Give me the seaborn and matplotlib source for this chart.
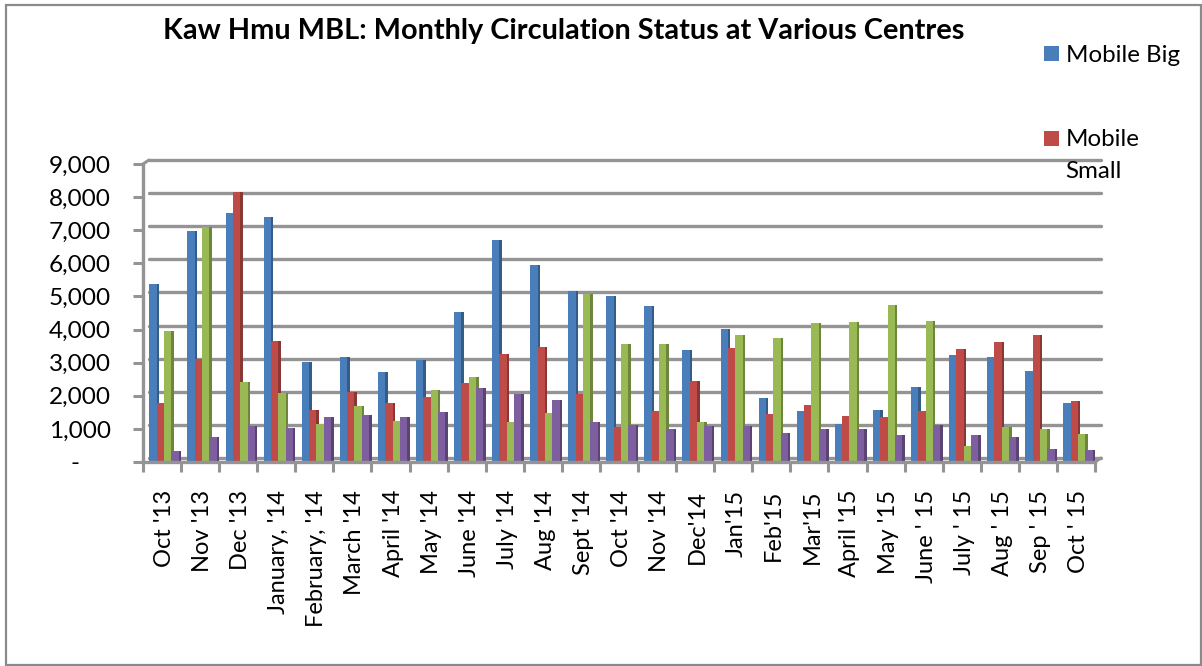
import matplotlib
matplotlib.use("Agg")
import matplotlib.pyplot as plt
from matplotlib.patches import Rectangle
from matplotlib.transforms import ScaledTranslation
from matplotlib.ticker import FuncFormatter
import seaborn as sns
import pandas as pd
import matplotlib.colors as mc

months = ["Oct '13","Nov '13","Dec '13","January, '14","February, '14","March '14","April '14","May '14","June '14","July '14","Aug '14","Sept '14","Oct '14","Nov '14","Dec'14","Jan'15","Feb'15","Mar'15","April '15","May '15","June ' 15","July ' 15","Aug ' 15","Sep ' 15","Oct ' 15"]
mobile_big = [5390,6990,7520,7400,3020,3170,2720,3090,4530,6700,5950,5165,5025,4700,3390,4010,1940,1550,1140,1560,2275,3240,3180,2740,1790]
mobile_small = [1780,3120,8150,3655,1580,2125,1780,1970,2400,3270,3470,2065,1060,1530,2445,3450,1450,1730,1400,1350,1550,3425,3625,3840,1855]
series_3 = [3950,7100,2430,2075,1160,1680,1230,2185,2560,1220,1480,5085,3555,3575,1200,3850,3745,4200,4240,4750,4250,485,1060,1000,845]
series_4 = [320,755,1080,1040,1350,1420,1360,1510,2225,2065,1860,1210,1110,1000,1090,1100,885,990,1010,815,1110,815,745,395,355]
series_names = ["Mobile Big","Mobile Small","Series 3","Series 4"]
colors = ["#4a7ebb","#be4b48","#98b954","#7d5fa0"]

W, H = 1202, 666
sns.set_theme(style="white")
plt.rcParams["font.family"] = ["Lato", "DejaVu Sans"]
fig = plt.figure(figsize=(W/100, H/100), dpi=100, facecolor="white")
L, R, T, B = 143, 1095, 164, 462
ax = fig.add_axes([L/W, 1-B/H, (R-L)/W, (B-T)/H])

df = pd.DataFrame({"Month": months*4,
                   "Series": sum([[n]*len(months) for n in series_names], []),
                   "Value": mobile_big+mobile_small+series_3+series_4})
GRAY = "#949494"
def darker(c, f=0.72):
    return tuple(x*f for x in mc.to_rgb(c))

# back-wall gridlines, shifted up and right from the front axis
back = ScaledTranslation(6/100, 4/100, fig.dpi_scale_trans)
for v in range(0, 9001, 1000):
    ax.plot([-0.5, 24.5], [v, v], color=GRAY, lw=2.4, solid_capstyle="round",
            transform=ax.transData+back, zorder=1, clip_on=False)

# side faces then front faces, per series
sns.barplot(data=df, x="Month", y="Value", hue="Series", hue_order=series_names,
            palette=[darker(c) for c in colors],
            width=0.77, gap=0, saturation=1, ax=ax, legend=False, zorder=2)
n_side = len(ax.patches)
side_shift = ScaledTranslation(4.5/100, 0, fig.dpi_scale_trans)
for p in ax.patches:
    p.set_transform(p.get_data_transform()+side_shift)
    p.set_clip_on(False)
    p.set_linewidth(0)
sns.barplot(data=df, x="Month", y="Value", hue="Series", hue_order=series_names,
            palette=colors,
            width=0.77, gap=0, saturation=1, ax=ax, legend=False, zorder=3)
front_shift = ScaledTranslation(2/100, 0, fig.dpi_scale_trans)
for p in ax.patches[n_side:]:
    p.set_transform(p.get_data_transform()+front_shift)
    p.set_clip_on(False)
    p.set_linewidth(0)
# stack side + front of each bar in series order
for i in range(n_side):
    order = i // 25
    ax.patches[i].set_zorder(2+order*0.1)
    ax.patches[n_side+i].set_zorder(2.05+order*0.1)

ax.set_xlim(-0.5, 24.5)
ax.set_ylim(0, 9000)
ax.set_xlabel(""); ax.set_ylabel("")
ax.set_yticks(range(0, 9001, 1000))
ax.yaxis.set_major_formatter(FuncFormatter(lambda v, _: "-     " if v == 0 else f"{int(v):,}"))
ax.set_xticks([i-0.5 for i in range(26)], minor=True)
ax.set_xticks(range(25))
ax.set_xticklabels(months, rotation=90, fontsize=17, color="black")
ax.tick_params(axis="x", which="major", length=0, pad=20)
ax.tick_params(axis="x", which="minor", length=7, width=2.2, color=GRAY, bottom=True)
ax.tick_params(axis="y", length=7, width=2.2, color=GRAY, labelsize=17.6, labelcolor="black", left=True, pad=16)
label_shift = ScaledTranslation(2.5/100, 0, fig.dpi_scale_trans)
for t in ax.get_xticklabels():
    t.set_transform(t.get_transform()+label_shift)
for s in ["top","right"]:
    ax.spines[s].set_visible(False)
for s in ["left","bottom"]:
    ax.spines[s].set_color(GRAY); ax.spines[s].set_linewidth(2.4)
ax.patch.set_alpha(0)

# slanted corners joining the front axis to the back wall
corner = dict(color=GRAY, lw=2.2, transform=fig.transFigure, clip_on=False)
fig.add_artist(plt.Line2D([L/W, (L+6)/W], [1-T/H, 1-(T-4)/H], **corner))
fig.add_artist(plt.Line2D([R/W, (R+6)/W], [1-B/H, 1-(B-4)/H], **corner))

fig.text(564/W, 1-31/H, "Kaw Hmu MBL: Monthly Circulation Status at Various Centres",
         ha="center", va="center", fontsize=20.8, fontweight="bold", color="black")

# legend as shown (clipped in the source)
fig.patches.append(Rectangle((1044/W, 1-61/H), 15/W, 15/H, transform=fig.transFigure, facecolor=colors[0], edgecolor="none"))
fig.patches.append(Rectangle((1044/W, 1-146/H), 15/W, 15/H, transform=fig.transFigure, facecolor=colors[1], edgecolor="none"))
fig.text(1066/W, 1-56/H, "Mobile Big", fontsize=17.4, va="center", color="black")
fig.text(1066/W, 1-140/H, "Mobile", fontsize=17.4, va="center", color="black")
fig.text(1065/W, 1-172/H, "Small", fontsize=17.4, va="center", color="black")

fig.patches.append(Rectangle((6/W, 1-665/H), 1195/W, 660/H, transform=fig.transFigure, facecolor="none", edgecolor="#8a8a8a", lw=1.6))
fig.savefig("out.png", dpi=100)
